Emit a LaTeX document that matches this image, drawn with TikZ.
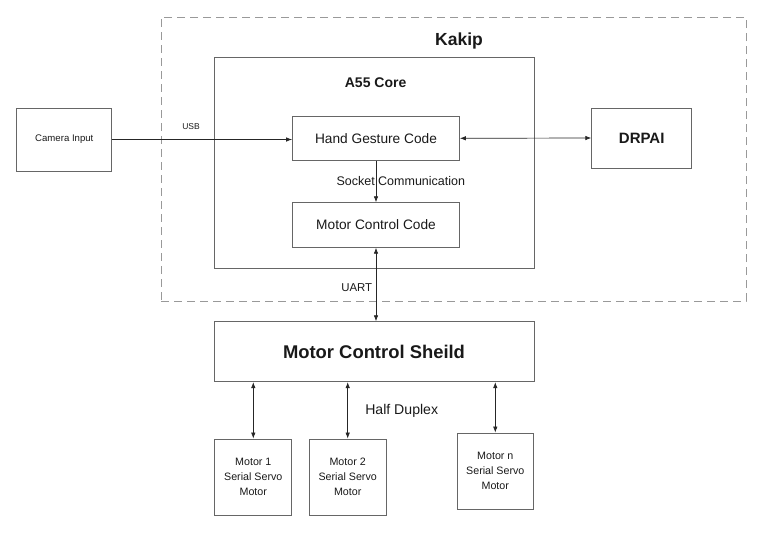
\documentclass[tikz,border=0pt]{standalone}
\usepackage{fontspec}
\setmainfont{Liberation Sans}
\usetikzlibrary{arrows.meta}
\begin{document}
\begin{tikzpicture}[x=1pt,y=-1pt,
  box/.style={draw=black!60,line width=0.8pt,inner sep=0pt,align=center,text=black!90},
  conn/.style={draw=black!85,line width=0.7pt,-{Latex[length=6pt,width=4.5pt]}},
  bconn/.style={draw=black!85,line width=0.7pt,{Latex[length=6pt,width=4.5pt]}-{Latex[length=6pt,width=4.5pt]}},
  lbl/.style={inner sep=0pt,text=black!90}]
\useasboundingbox (0,0) rectangle (779,536);
% Kakip dashed region
\node[draw=black!40,line width=0.9pt,dash pattern=on 8pt off 5pt,minimum width=585pt,minimum height=284pt,inner sep=0pt] (kakip) at (453.5,159) {};
\node[lbl,font=\fontsize{17.5}{20}\selectfont\bfseries] (kakiplbl) at (459,41) {Kakip};
% A55 core
\node[box,minimum width=320pt,minimum height=211pt] (a55) at (374,162.5) {};
\node[lbl,font=\fontsize{14}{17}\selectfont\bfseries] (a55lbl) at (375.6,83) {A55 Core};
% boxes
\node[box,minimum width=95pt,minimum height=63pt,font=\fontsize{9.6}{12}\selectfont] (cam) at (64.3,139.5) {Camera Input};
\node[box,minimum width=167pt,minimum height=44pt,font=\fontsize{13.7}{16}\selectfont] (hand) at (376,138.3) {Hand Gesture Code};
\node[box,minimum width=167pt,minimum height=44.6pt,font=\fontsize{13.7}{16}\selectfont] (mcc) at (376,225) {Motor Control Code};
\node[box,minimum width=100pt,minimum height=60pt,font=\fontsize{15}{18}\selectfont\bfseries] (drpai) at (641.7,138) {DRPAI};
\node[box,minimum width=320pt,minimum height=60pt,font=\fontsize{18.4}{22}\selectfont\bfseries] (sheild) at (374,351.7) {Motor Control Sheild};
\node[box,minimum width=77pt,minimum height=76pt,font=\fontsize{10.7}{15}\selectfont] (m1) at (253.3,477) {Motor 1\\Serial Servo\\Motor};
\node[box,minimum width=77pt,minimum height=76pt,font=\fontsize{10.7}{15}\selectfont] (m2) at (347.7,477) {Motor 2\\Serial Servo\\Motor};
\node[box,minimum width=76pt,minimum height=76pt,font=\fontsize{10.7}{15}\selectfont] (mn) at (495.3,471) {Motor n\\Serial Servo\\Motor};
% connectors
\draw[conn] (cam.east) -- (cam.east -| hand.west);
\node[lbl,font=\fontsize{8.5}{10}\selectfont] (usb) at (191,127) {USB};
\draw[bconn] (hand.east) -- (drpai.west);
\draw[conn] (hand.south) -- (mcc.north);
\node[lbl,font=\fontsize{12.5}{15}\selectfont] (sock) at (400.8,181.5) {Socket Communication};
\draw[bconn] (mcc.south) -- (mcc.south |- sheild.north);
\node[lbl,font=\fontsize{11.4}{14}\selectfont] (uart) at (356.7,288) {UART};
\draw[bconn] (m1.north |- sheild.south) -- (m1.north);
\draw[bconn] (m2.north |- sheild.south) -- (m2.north);
\draw[bconn] (mn.north |- sheild.south) -- (mn.north);
\node[lbl,font=\fontsize{14.1}{17}\selectfont] (hd) at (401.7,410.7) {Half Duplex};
\end{tikzpicture}
\end{document}
